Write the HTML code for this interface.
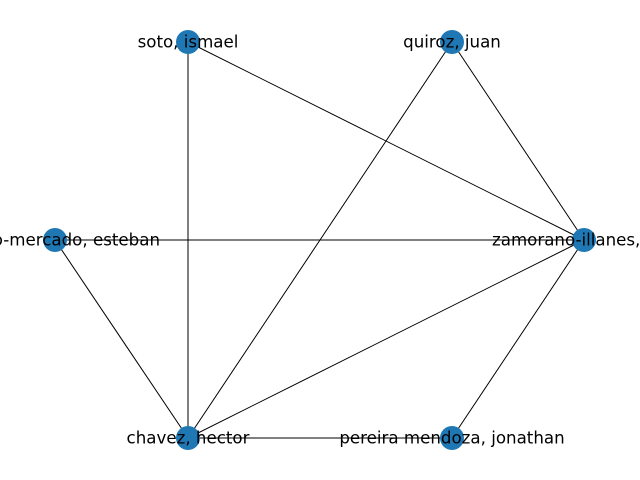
<!DOCTYPE html>
<html><head><meta charset="utf-8"><style>
html,body{margin:0;padding:0;background:#fff;}
svg{display:block;}
text{font-family:"DejaVu Sans","Liberation Sans",sans-serif;font-size:16.67px;fill:#000;dominant-baseline:central;}
</style></head><body>
<svg width="640" height="480" viewBox="0 0 640 480">
<g stroke="#000" stroke-width="1">
<line x1="188" y1="42" x2="188" y2="438"/>
<line x1="188" y1="42" x2="584" y2="240"/>
<line x1="452" y1="42" x2="188" y2="438"/>
<line x1="452" y1="42" x2="584" y2="240"/>
<line x1="55" y1="240" x2="584" y2="240"/>
<line x1="55" y1="240" x2="188" y2="438"/>
<line x1="188" y1="438" x2="584" y2="240"/>
<line x1="188" y1="438" x2="452" y2="438"/>
<line x1="452" y1="438" x2="584" y2="240"/>
</g>
<g fill="#1f77b4">
<circle cx="188" cy="42" r="12"/>
<circle cx="452" cy="42" r="12"/>
<circle cx="55" cy="240" r="12"/>
<circle cx="584" cy="240" r="12"/>
<circle cx="188" cy="438" r="12"/>
<circle cx="452" cy="438" r="12"/>
</g>
<text x="188" y="42" text-anchor="middle">soto, ismael</text>
<text x="452" y="42" text-anchor="middle">quiroz, juan</text>
<text x="160" y="240" text-anchor="end">toledo-mercado, esteban</text>
<text x="492" y="240" text-anchor="start">zamorano-illanes,</text>
<text x="188" y="438" text-anchor="middle">chavez, hector</text>
<text x="452" y="438" text-anchor="middle">pereira mendoza, jonathan</text>
</svg>
</body></html>
